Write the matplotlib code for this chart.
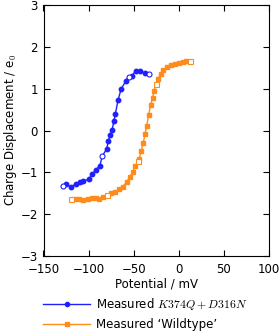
import numpy as np
import matplotlib
matplotlib.use('Agg')
import matplotlib.pyplot as plt
from matplotlib.lines import Line2D

plt.rcParams['font.family'] = ['DejaVu Sans']
plt.rcParams['mathtext.fontset'] = 'cm'
plt.rcParams['font.size'] = 8.5

# mutant K374Q + D316N
mut_v = [-128, -125, -120, -114, -110, -106, -100, -96, -92, -87.5, -85, -80, -78, -76,
         -74, -72, -70.4, -67.4, -64, -58.5, -55.5, -52, -47.5, -43, -38, -33.4]
mut_q = [-1.33, -1.28, -1.35, -1.28, -1.24, -1.21, -1.17, -1.04, -0.94, -0.84, -0.62, -0.44,
         -0.24, -0.11, 0.01, 0.22, 0.39, 0.72, 0.99, 1.19, 1.29, 1.31, 1.43, 1.42, 1.37, 1.34]
mut_open = [1, 0, 0, 0, 0, 0, 0, 0, 0, 0, 1, 0, 0, 0, 0, 0, 0, 0, 0, 0, 1, 0, 0, 0, 0, 1]

# wildtype
wt_v = [-119.5, -115, -110.6, -106, -100.5, -96, -91.5, -88.5, -84.4, -79.6, -75.2, -70.7,
        -66, -62, -57.8, -54, -51, -48.6, -45, -43.8, -41.6, -39.4, -37.5, -35.6, -33.4,
        -31.2, -29, -27.5, -25.3, -23.1, -20.1, -17.2, -12.8, -8.4, -3.9, -0.2, 4.2, 7.9, 12.3]
wt_q = [-1.63, -1.64, -1.64, -1.67, -1.63, -1.62, -1.62, -1.63, -1.58, -1.54, -1.50, -1.47,
        -1.40, -1.34, -1.23, -1.10, -0.99, -0.86, -0.74, -0.67, -0.48, -0.30, -0.09, 0.11, 0.38,
        0.61, 0.78, 0.95, 1.10, 1.23, 1.35, 1.45, 1.51, 1.56, 1.59, 1.61, 1.64, 1.66, 1.65]
wt_open = [1, 0, 0, 0, 0, 0, 0, 0, 0, 1, 0, 0, 0, 0, 0, 0, 0, 0, 1, 0, 0, 0, 0, 0, 0,
           0, 0, 0, 1, 0, 0, 0, 0, 0, 0, 0, 0, 0, 1]

blue = '#1f1fff'
orange = '#ff8c1a'

fig = plt.figure(figsize=(2.79, 3.32), dpi=100)
ax = fig.add_axes([43.5 / 279, 1 - 256 / 332, 225.5 / 279, 251 / 332])


def draw(v, q, op, color, marker):
    v = np.array(v)
    q = np.array(q)
    op = np.array(op, dtype=bool)
    ax.plot(v, q, '-', color=color, lw=1)
    ax.plot(v[~op], q[~op], marker, color=color, ms=3.2, ls='none')
    ax.plot(v[op], q[op], marker, color=color, mfc='white', mec=color, ms=3.6, mew=0.8, ls='none')


draw(mut_v, mut_q, mut_open, blue, 'o')
draw(wt_v, wt_q, wt_open, orange, 's')

ax.set_xlim(-150, 100)
ax.set_ylim(-3, 3)
ax.set_xticks([-150, -100, -50, 0, 50, 100])
ax.set_yticks([-3, -2, -1, 0, 1, 2, 3])
ax.tick_params(direction='in', top=True, right=True, length=4, width=0.8, pad=4)
ax.tick_params(axis='x', pad=5)
ax.set_xlabel('Potential / mV', labelpad=1)
ax.set_ylabel('Charge Displacement / e$_0$', labelpad=1)

handles = [Line2D([], [], color=blue, marker='o', ms=3, lw=1),
           Line2D([], [], color=orange, marker='s', ms=3, lw=1)]
labels = ['Measured $K374Q + D316N$', "Measured \u2018Wildtype\u2019"]
fig.legend(handles, labels, loc='upper left', bbox_to_anchor=(43 / 279, 1 - 296 / 332),
           frameon=False, handlelength=4, handletextpad=0.5, labelspacing=0.55,
           borderaxespad=0, borderpad=0)

fig.savefig('out.png', dpi=100)
